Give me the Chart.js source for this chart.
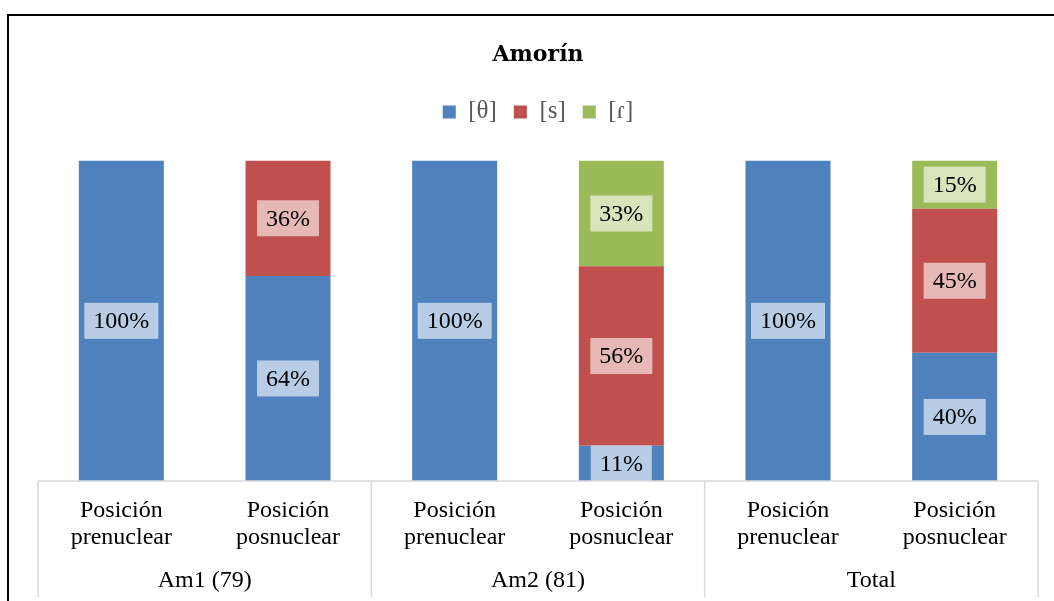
<!DOCTYPE html>
<html>
<head>
<meta charset="utf-8">
<title>Amorín</title>
<script src="https://cdn.jsdelivr.net/npm/chart.js@4.4.1/dist/chart.umd.min.js"></script>
<style>
  html, body { margin: 0; padding: 0; background: #fff; overflow: hidden; }
  #frame { position: absolute; left: 7px; top: 14px; width: 1100px; height: 700px; border: 2px solid #000; }
  #chart { position: absolute; left: 0; top: 0; }
</style>
</head>
<body>
<div id="frame"></div>
<canvas id="chart" width="1054" height="601"></canvas>
<script>
// categorias (dos niveles)
const categories = [
    ['Posición', 'prenuclear'], ['Posición', 'posnuclear'],
    ['Posición', 'prenuclear'], ['Posición', 'posnuclear'],
    ['Posición', 'prenuclear'], ['Posición', 'posnuclear']
];
const groups = ['Am1 (79)', 'Am2 (81)', 'Total'];

// porcentajes por variante
const theta = [100, 64, 100, 11, 100, 40];
const ese = [0, 36, 0, 56, 0, 45];
const tap = [0, 0, 0, 33, 0, 15];

const serif = '"Liberation Serif", "Times New Roman", serif';

// etiquetas de datos con caja blanca semitransparente
const dataLabels = {
    id: 'dataLabels',
    afterDatasetsDraw(chart) {
        const c = chart.ctx;
        c.save();
        c.font = '24px ' + serif;
        c.textAlign = 'center';
        c.textBaseline = 'middle';
        chart.data.datasets.forEach((ds, i) => {
            const meta = chart.getDatasetMeta(i);
            meta.data.forEach((bar, j) => {
                const v = ds.data[j];
                if (!v) return;
                const txt = v + '%';
                const w = c.measureText(txt).width + 18;
                const h = 36;
                const cy = (bar.y + bar.base) / 2;
                c.fillStyle = 'rgba(255,255,255,0.6)';
                c.fillRect(bar.x - w / 2, cy - h / 2, w, h);
                c.fillStyle = '#000';
                c.fillText(txt, bar.x, cy + 1);
            });
        });
        c.restore();
    }
};

// caja del eje de categorias y etiquetas de grupo
const groupAxis = {
    id: 'groupAxis',
    afterDraw(chart) {
        const c = chart.ctx;
        const x = chart.scales.x;
        const area = chart.chartArea;
        const bottom = chart.height - 4;
        const edge = i => (x.getPixelForValue(i - 1) + x.getPixelForValue(i)) / 2;
        c.save();
        c.strokeStyle = '#d9d9d9';
        c.lineWidth = 1.5;
        c.beginPath();
        c.moveTo(area.left, area.bottom);
        c.lineTo(area.right, area.bottom);
        const lines = [area.left, edge(2), edge(4), area.right];
        lines.forEach(px => {
            c.moveTo(px, area.bottom);
            c.lineTo(px, bottom);
        });
        c.stroke();

        c.font = '24px ' + serif;
        c.fillStyle = '#000';
        c.textAlign = 'center';
        c.textBaseline = 'middle';
        groups.forEach((g, i) => {
            const cx = (x.getPixelForValue(i * 2) + x.getPixelForValue(i * 2 + 1)) / 2;
            c.fillText(g, cx, 581);
        });
        c.restore();
    }
};

const chart = new Chart(document.getElementById('chart'), {
    type: 'bar',
    data: {
        labels: categories,
        datasets: [
            { label: '[θ]', data: theta, backgroundColor: '#4F81BD' },
            { label: '[s]', data: ese, backgroundColor: '#C0504D' },
            { label: '[ɾ]', data: tap, backgroundColor: '#9BBB59' }
        ]
    },
    options: {
        responsive: false,
        animation: false,
        categoryPercentage: 1,
        barPercentage: 0.51,
        layout: { padding: { left: 38, right: 16, top: 0, bottom: 0 } },
        plugins: {
            title: {
                display: true,
                text: 'Amorín',
                color: '#000',
                font: { family: '"DejaVu Serif", serif', size: 22, weight: 'bold' },
                padding: { top: 42, bottom: 14 }
            },
            // espacio entre la leyenda y las barras
            subtitle: {
                display: true,
                text: '',
                weight: 500,
                font: { size: 1 },
                padding: { top: 0, bottom: 25 }
            },
            legend: {
                position: 'top',
                labels: {
                    boxWidth: 13,
                    boxHeight: 13,
                    padding: 17,
                    color: '#595959',
                    font: { family: serif, size: 25 }
                }
            },
            tooltip: { enabled: false }
        },
        scales: {
            x: {
                stacked: true,
                grid: { display: false, drawTicks: false },
                border: { display: false },
                ticks: {
                    color: '#000',
                    padding: 16,
                    maxRotation: 0,
                    autoSkip: false,
                    font: { family: serif, size: 24, lineHeight: 1.125 }
                },
                afterFit(scale) { scale.height = 120; }
            },
            y: {
                stacked: true,
                display: false,
                min: 0,
                max: 100
            }
        }
    },
    plugins: [dataLabels, groupAxis]
});
</script>
</body>
</html>
